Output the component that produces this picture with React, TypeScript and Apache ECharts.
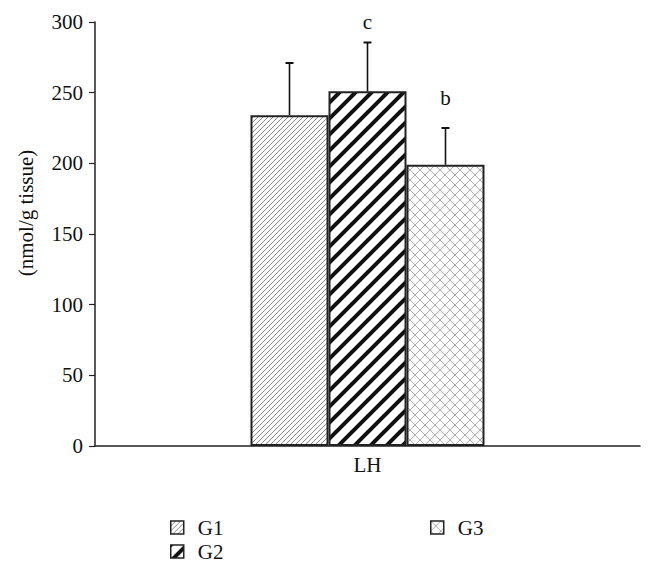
import React, { useEffect, useRef } from "react";
import * as echarts from "echarts";

const categories = ["LH"];
const groups = ["G1", "G2", "G3"];
const means = [234, 251, 199];
const upperErr = [271, 285.5, 225];
const sigLetters = ["", "c", "b"];
const sigLetterValue = [0, 300, 246];
const yTicks = { min: 0, max: 300, interval: 50 };
const yTitle = "(nmol/g tissue)";

const FONT = "'Liberation Serif', 'DejaVu Serif', serif";
const BAR_W = 78;

function tile(size: number, lw: number, color: string, cross: boolean) {
  const c = document.createElement("canvas");
  c.width = size;
  c.height = size;
  const ctx = c.getContext("2d")!;
  ctx.fillStyle = "#fff";
  ctx.fillRect(0, 0, size, size);
  ctx.strokeStyle = color;
  ctx.lineWidth = lw;
  ctx.lineCap = "square";
  for (let k = -1; k <= 1; k++) {
    ctx.beginPath();
    ctx.moveTo(k * size, size);
    ctx.lineTo(k * size + size, 0);
    ctx.stroke();
    if (cross) {
      ctx.beginPath();
      ctx.moveTo(k * size, 0);
      ctx.lineTo(k * size + size, size);
      ctx.stroke();
    }
  }
  return {
    image: c.toDataURL(),
    imageWidth: size,
    imageHeight: size,
    repeat: "repeat",
  } as any;
}

export default function App() {
  const ref = useRef<HTMLDivElement>(null);
  useEffect(() => {
    if (!ref.current) return;
    const chart = echarts.init(ref.current, null, { renderer: "svg" });
    const patterns = [
      tile(5, 0.8, "#6a6a6a", false),
      tile(16, 4, "#111", false),
      tile(10, 0.7, "#8a8a8a", true),
    ];
    const barSeries = groups.map((g, i) => ({
      name: g,
      type: "bar",
      barWidth: BAR_W,
      barGap: "0%",
      data: [means[i]],
      itemStyle: { color: patterns[i], borderColor: "#222", borderWidth: 2 },
      z: 2,
    }));
    const errData = groups.map((g, i) => [0, means[i], upperErr[i], i, sigLetterValue[i]]);
    const errSeries = {
      type: "custom",
      z: 5,
      silent: true,
      data: errData,
      renderItem: (params: any, api: any) => {
        const idx = api.value(3);
        const base = api.coord([api.value(0), api.value(1)]);
        const top = api.coord([api.value(0), api.value(2)]);
        const x = base[0] + (idx - 1) * BAR_W;
        const children: any[] = [
          {
            type: "line",
            shape: { x1: x, y1: base[1], x2: x, y2: top[1] },
            style: { stroke: "#111", lineWidth: 1.6 },
          },
          {
            type: "line",
            shape: { x1: x - 4, y1: top[1], x2: x + 4, y2: top[1] },
            style: { stroke: "#111", lineWidth: 2 },
          },
        ];
        const letter = sigLetters[idx];
        if (letter) {
          const ly = api.coord([api.value(0), api.value(4)])[1];
          children.push({
            type: "text",
            style: {
              text: letter,
              x,
              y: ly,
              align: "center",
              verticalAlign: "middle",
              font: `21px ${FONT}`,
              fill: "#111",
            },
          });
        }
        return { type: "group", children };
      },
    };
    const legendText = {
      fontFamily: FONT,
      fontSize: 21,
      lineHeight: 21,
      color: "#111",
      padding: [0, 0, 0, 9],
    };
    const legendItem = (i: number) => ({
      name: groups[i],
      icon: "rect",
      itemStyle: { color: patterns[i], borderColor: "#222", borderWidth: 1.5 },
    });
    chart.setOption({
      animation: false,
      backgroundColor: "#fff",
      grid: { left: 95, right: 14, top: 22, bottom: 132 },
      graphic: [
        {
          type: "text",
          x: 26,
          y: 213,
          rotation: Math.PI / 2,
          style: {
            text: yTitle,
            align: "center",
            verticalAlign: "middle",
            font: `21px ${FONT}`,
            fill: "#111",
          },
        },
      ],
      legend: [
        {
          data: [legendItem(0), legendItem(1)],
          orient: "vertical",
          left: 170,
          top: 517,
          itemWidth: 13,
          itemHeight: 13,
          itemGap: 3,
          padding: 0,
          textStyle: legendText,
          selectedMode: false,
        },
        {
          data: [legendItem(2)],
          orient: "vertical",
          left: 430,
          top: 517,
          itemWidth: 13,
          itemHeight: 13,
          itemGap: 3,
          padding: 0,
          textStyle: legendText,
          selectedMode: false,
        },
      ],
      xAxis: {
        type: "category",
        data: categories,
        axisLine: { lineStyle: { color: "#222", width: 1.5 } },
        axisTick: { show: false },
        axisLabel: { fontFamily: FONT, fontSize: 21, color: "#111", margin: 8 },
      },
      yAxis: {
        type: "value",
        min: yTicks.min,
        max: yTicks.max,
        interval: yTicks.interval,
        axisLine: { show: true, lineStyle: { color: "#222", width: 1.5 } },
        axisTick: { show: true, inside: false, length: 6, lineStyle: { color: "#222", width: 1.2 } },
        axisLabel: { fontFamily: FONT, fontSize: 21, color: "#111", margin: 12 },
        splitLine: { show: false },
      },
      series: [...barSeries, errSeries],
    });
    return () => chart.dispose();
  }, []);
  return (
    <div
      ref={ref}
      style={{ position: "fixed", left: 0, top: 0, width: 654, height: 578 }}
    />
  );
}
